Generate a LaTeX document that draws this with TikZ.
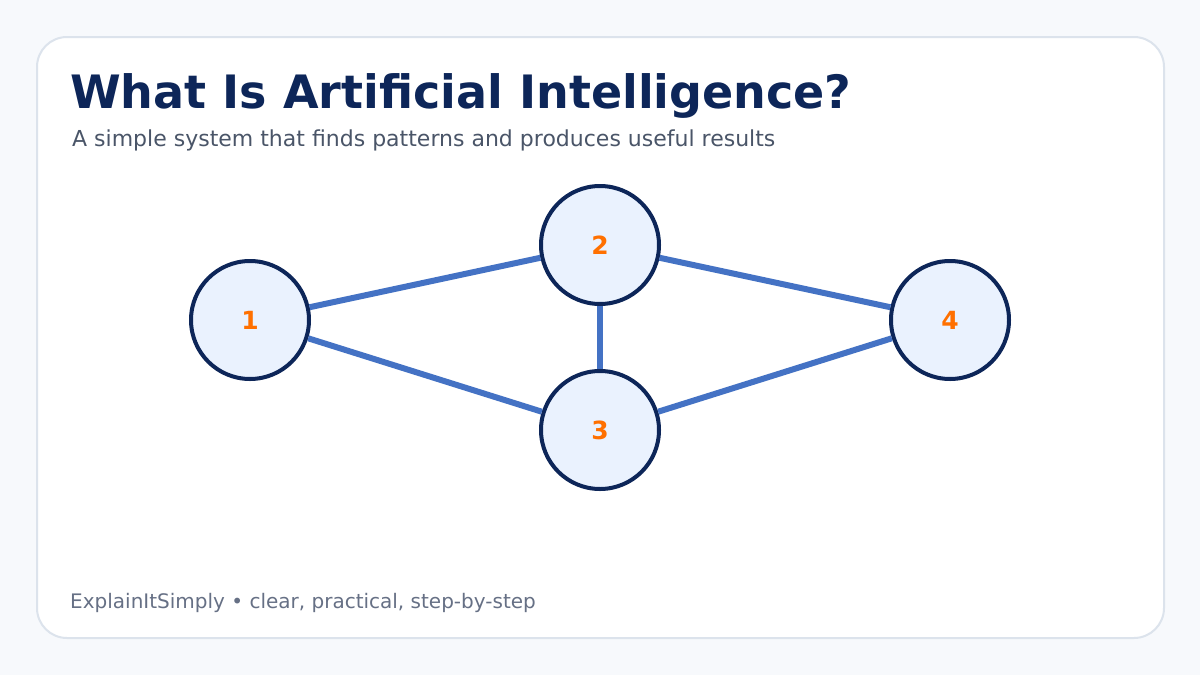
\documentclass[tikz,border=0pt]{standalone}
\usepackage{fontspec}
\setmainfont{DejaVu Sans}
\usepackage{xcolor}
\usepackage{tikz}
\usetikzlibrary{positioning}
\definecolor{pagebg}{HTML}{F7F9FC}
\definecolor{cardline}{HTML}{DCE3EC}
\definecolor{navy}{HTML}{0D2659}
\definecolor{slate}{HTML}{4A5568}
\definecolor{muted}{HTML}{667085}
\definecolor{nodefill}{HTML}{EAF2FE}
\definecolor{linkblue}{HTML}{4472C4}
\definecolor{numorange}{HTML}{FF7000}

\begin{document}
\begin{tikzpicture}[x=1pt, y=-1pt,
  unit/.style={circle, draw=navy, line width=4pt, fill=nodefill, minimum size=118pt, inner sep=0pt,
    text=numorange, font=\fontsize{25}{29}\selectfont\bfseries},
  link/.style={linkblue, line width=6pt}]
  % ================================================================
  % page and card
  % ================================================================
  \fill[pagebg] (0,0) rectangle (1200,675);
  \useasboundingbox (0,0) rectangle (1200,675);
  \draw[cardline, fill=white, line width=2pt, rounded corners=30pt] (37,37) rectangle (1164,638);
  % title ----------------------------------------------------------
  \node[anchor=base west, inner sep=0pt, text=navy, font=\fontsize{46}{52}\selectfont\bfseries] (title) at (70,108) {What Is Artificial Intelligence?};
  \node[anchor=base west, inner sep=0pt, text=slate, font=\fontsize{22}{26}\selectfont] (subtitle) at (72,146) {A simple system that finds patterns and produces useful results};
  % network --------------------------------------------------------
  \node[unit] (n1) at (250,320) {1};
  \node[unit] (n2) at (600,245) {2};
  \node[unit] (n3) at (600,430) {3};
  \node[unit] (n4) at (950,320) {4};
  \draw[link] (n1) -- (n2);
  \draw[link] (n1) -- (n3);
  \draw[link] (n2) -- (n3);
  \draw[link] (n2) -- (n4);
  \draw[link] (n3) -- (n4);
  % footer ---------------------------------------------------------
  \node[anchor=base west, inner sep=0pt, text=muted, font=\fontsize{20}{24}\selectfont] (footer) at (70,608) {ExplainItSimply • clear, practical, step-by-step};
\end{tikzpicture}
\end{document}
